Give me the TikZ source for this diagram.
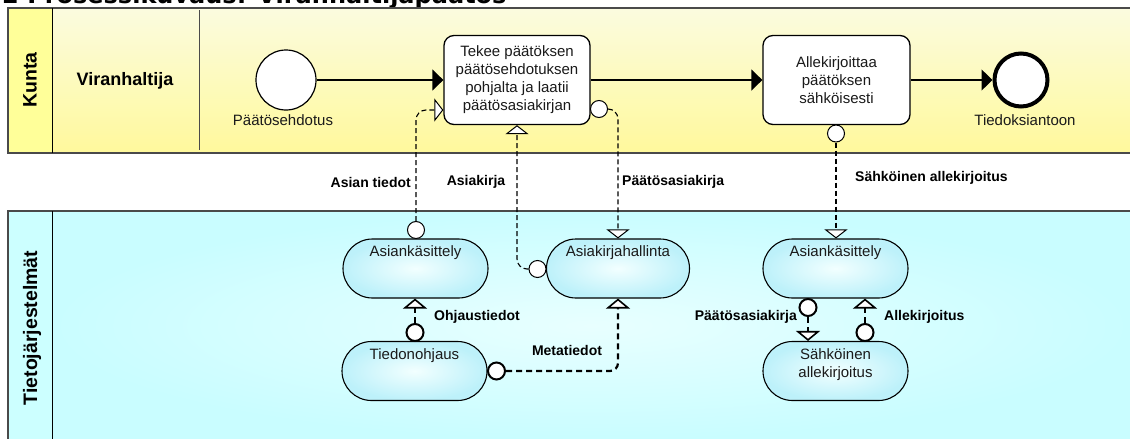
\documentclass[tikz,border=0pt]{standalone}
\usepackage{fontspec}
\setmainfont{Liberation Sans}
\newfontfamily\titlefont{DejaVu Sans}
\usetikzlibrary{arrows.meta,shapes.misc,calc}

\definecolor{laneyel}{HTML}{FFFF99}
\definecolor{yeltop}{HTML}{FBFBDF}
\definecolor{yelbot}{HTML}{FFF99C}
\definecolor{lanecyan}{HTML}{CCFFFF}
\definecolor{cyanin}{HTML}{E8FFFF}
\definecolor{cyanout}{HTML}{C9FDFF}
\definecolor{nodein}{HTML}{F2FFFF}
\definecolor{nodeout}{HTML}{BDF1FA}
\definecolor{rulegray}{HTML}{4A4A4A}
\definecolor{txt}{HTML}{1A1A1A}

\begin{document}
\begin{tikzpicture}[x=1pt,y=-1pt,
  font=\fontsize{15}{18}\selectfont,
  task/.style={draw, line width=1.3pt, fill=white, rounded corners=10pt,
    minimum width=146pt, minimum height=89pt, align=center, inner sep=0pt, text=txt},
  sys/.style={rounded rectangle, draw, line width=1.1pt, shading=radial,
    inner color=nodein, outer color=nodeout, minimum width=145pt,
    minimum height=59pt, inner sep=0pt},
  sysname/.style={anchor=north, yshift=-7pt, inner sep=0pt, text=txt, align=center},
  startev/.style={circle, draw, fill=white, line width=1.2pt, minimum size=60pt, inner sep=0pt},
  endev/.style={circle, draw, fill=white, line width=4pt, minimum size=53pt, inner sep=0pt},
  evlbl/.style={inner sep=0pt, text=txt},
  msgcirc/.style={circle, draw, fill=white, line width=1pt, minimum size=17pt, inner sep=0pt},
  thkcirc/.style={circle, draw, fill=white, line width=2pt, minimum size=17pt, inner sep=0pt},
  seq/.style={draw, line width=1.3pt, -{Triangle[length=11pt,width=21pt]}},
  msg/.style={draw, line width=1.1pt, dash pattern=on 5pt off 3pt, rounded corners=10pt,
    -{Triangle[length=9pt,width=23pt,fill=white,line width=1pt]}},
  thk/.style={draw, line width=2.2pt, dash pattern=on 6pt off 4pt, rounded corners=8pt,
    -{Triangle[length=10pt,width=24pt,fill=white,line width=1.6pt]}},
  flowlbl/.style={font=\fontsize{14}{16}\selectfont\bfseries, inner sep=0pt},
  lanehead/.style={rotate=90, font=\fontsize{19.5}{22}\selectfont\bfseries, inner sep=0pt}
]
\useasboundingbox (0,0) rectangle (1130,439);
\clip (0,0) rectangle (1130,439);

% heading of the page
\node[anchor=base west, inner sep=0pt, font=\titlefont\bfseries\fontsize{24}{28}\selectfont]
  (title) at (2,4) {2 Prosessikuvaus: Viranhaltijapäätös};

% lane: Kunta / Viranhaltija
\fill[laneyel] (8,8) rectangle (52,153);
\shade[top color=yeltop, bottom color=yelbot] (52,8) rectangle (1131,153);
\draw[rulegray, line width=1.2pt] (1131,8) -- (8,8) -- (8,153) -- (1131,153);
\draw[line width=1pt] (52,8) -- (52,153);
\draw[rulegray, line width=0.8pt] (199,10) -- (199,150);
\node[lanehead] (kunta) at (30,80) {Kunta};
\node[font=\fontsize{18}{20}\selectfont\bfseries, inner sep=0pt] (viran) at (125,81) {Viranhaltija};

% lane: Tietojärjestelmät
\fill[lanecyan] (8,211) rectangle (52,440);
\shade[inner color=cyanin, outer color=cyanout] (52,211) rectangle (1131,440);
\draw[rulegray, line width=1.2pt] (1131,211) -- (8,211) -- (8,440);
\draw[line width=1pt] (52,211) -- (52,440);
\node[lanehead] (tieto) at (32,328) {Tietojärjestelmät};

% process flow
\node[startev] (start) at (286,80) {};
\node[evlbl] (startlbl) at (283,120) {Päätösehdotus};
\node[task] (t1) at (517,80) {Tekee päätöksen\\päätösehdotuksen\\pohjalta ja laatii\\päätösasiakirjan};
\node[task, minimum width=147pt] (t2) at (836.5,80) {Allekirjoittaa\\päätöksen\\sähköisesti};
\node[endev] (end) at (1021,80) {};
\node[evlbl] (endlbl) at (1025,120) {Tiedoksiantoon};

\draw[seq] (start) -- (t1);
\draw[seq] (t1) -- (t2);
\draw[seq] (t2) -- (end);

% information systems
\node[sys, label={[sysname]north:Asiankäsittely}] (ak1) at (415.5,268.5) {};
\node[sys, minimum width=143pt, label={[sysname]north:Asiakirjahallinta}] (ah) at (618,268.5) {};
\node[sys, label={[sysname]north:Tiedonohjaus}] (to) at (414.5,371) {};
\node[sys, label={[sysname]north:Asiankäsittely}] (ak2) at (835.5,268.5) {};
\node[sys, label={[sysname]north:Sähköinen\\allekirjoitus}] (sa) at (835.5,371) {};

% message flows between the lanes
\node[msgcirc, anchor=south] (c1) at (416,239) {};
\node[msgcirc, anchor=west] (c2) at (590,109) {};
\node[msgcirc, anchor=east] (c3) at (546.5,269) {};
\node[msgcirc, anchor=north] (c4) at (836,124.5) {};

\draw[msg] (c1.north) |- ([yshift=-30pt]t1.west);
\draw[msg] (c2.east) -| (ah.north);
\draw[msg] (c3.west) -| (t1.south);
\draw[msg] (c4.south) -- (c4.south |- ak2.north);

\node[flowlbl, anchor=east] (l1) at (411,182) {Asian tiedot};
\node[flowlbl] (l2) at (476,182) {Asiakirja};
\node[flowlbl, anchor=west] (l3) at (622,182) {Päätösasiakirja};
\node[flowlbl, anchor=west] (l4) at (855,178) {Sähköinen allekirjoitus};

% data flows inside the system lane
\node[thkcirc, anchor=south] (c5) at (415,342) {};
\node[thkcirc, anchor=west] (c6) at (487,371) {};
\node[thkcirc, anchor=north] (c7) at (808,298) {};
\node[thkcirc, anchor=south] (c8) at (865,342) {};

\draw[thk] (c5.north) -- (c5.north |- ak1.south);
\draw[thk] (c6.east) -| (ah.south);
\draw[thk] (c7.south) -- (c7.south |- sa.north);
\draw[thk] (c8.north) -- (c8.north |- ak2.south);

\node[flowlbl, anchor=west] (l5) at (434,317) {Ohjaustiedot};
\node[flowlbl] (l6) at (567,350) {Metatiedot};
\node[flowlbl, anchor=east] (l7) at (797,317) {Päätösasiakirja};
\node[flowlbl, anchor=west] (l8) at (884,317) {Allekirjoitus};
\end{tikzpicture}
\end{document}
